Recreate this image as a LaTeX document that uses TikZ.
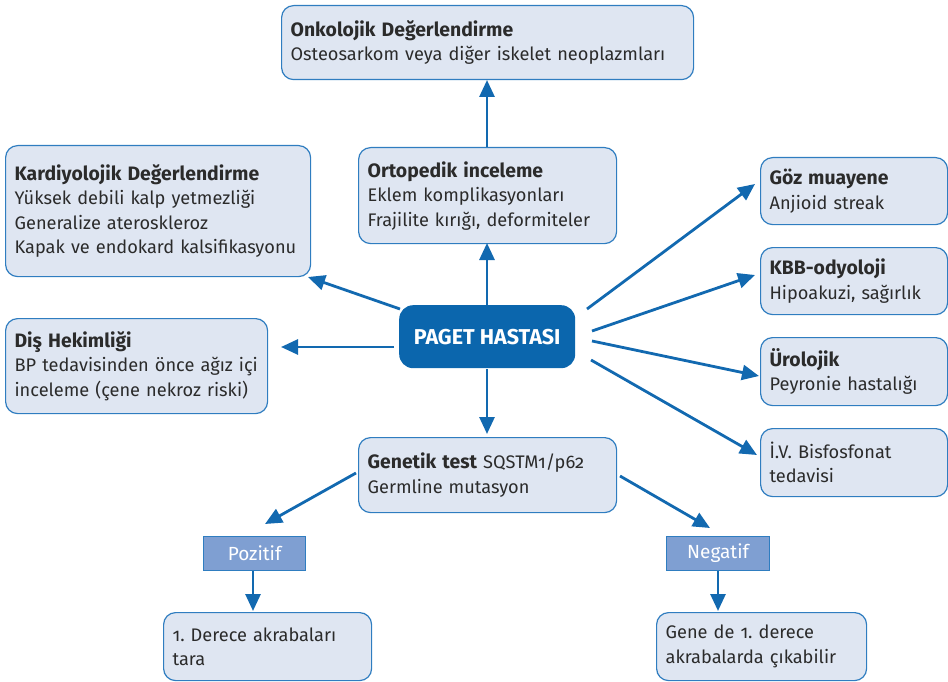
\documentclass[tikz,border=0pt]{standalone}
\usepackage{fontspec}
\setmainfont[Numbers=OldStyle]{Fira Sans}
\usetikzlibrary{arrows.meta}
\definecolor{bordc}{HTML}{2F7DC0}
\definecolor{boxc}{HTML}{DFE6F2}
\definecolor{arrc}{HTML}{1269B0}
\definecolor{centc}{HTML}{0B66AD}
\definecolor{txtc}{HTML}{2B2B2B}
\definecolor{labc}{HTML}{7F9FD2}
\newcommand\hdtxt[1]{{\fontsize{19.4}{24.5}\selectfont\bfseries #1}}
\begin{document}
\begin{tikzpicture}[x=1pt,y=-1pt,
  box/.style={draw=bordc, fill=boxc, rounded corners=12pt, line width=1.2pt, anchor=north west,
    inner xsep=9pt, inner ysep=0pt, align=left, text=txtc, font=\fontsize{18.2}{24.5}\selectfont},
  lab/.style={draw=bordc, fill=labc, line width=1.2pt, anchor=north west, inner sep=0pt,
    text=white, font=\fontsize{19}{22}\selectfont},
  conn/.style={draw=arrc, line width=2.8pt, -{Triangle[length=17pt,width=15pt]}}]
\useasboundingbox (0,0) rectangle (948,682);

% boxes
\node[box, text width=394pt, minimum height=74pt] (onk) at (281,5)
  {\hdtxt{Onkolojik Değerlendirme}\\Osteosarkom veya diğer iskelet neoplazmları};
\node[box, text width=287pt, minimum height=131pt] (kard) at (5,145)
  {\hdtxt{Kardiyolojik Değerlendirme}\\Yüksek debili kalp yetmezliği\\Generalize ateroskleroz\\Kapak ve endokard kalsifikasyonu};
\node[box, text width=240pt, minimum height=96pt] (ort) at (358,147)
  {\hdtxt{Ortopedik inceleme}\\Eklem komplikasyonları\\Frajilite kırığı, deformiteler};
\node[box, text width=169pt, minimum height=67pt] (goz) at (760,157)
  {\hdtxt{Göz muayene}\\Anjioid streak};
\node[box, text width=169pt, minimum height=67pt] (kbb) at (760,247)
  {\hdtxt{KBB-odyoloji}\\Hipoakuzi, sağırlık};
\node[box, text width=169pt, minimum height=68pt] (uro) at (760,337)
  {\hdtxt{Ürolojik}\\Peyronie hastalığı};
\node[box, text width=169pt, minimum height=68pt] (iv) at (760,428)
  {İ.V. Bisfosfonat\\tedavisi};
\node[box, text width=244pt, minimum height=95pt] (dis) at (5,318)
  {\hdtxt{Diş Hekimliği}\\BP tedavisinden önce ağız içi\\inceleme (çene nekroz riski)};
\node[box, text width=240pt, minimum height=75pt] (gen) at (358,437)
  {\hdtxt{Genetik test} SQSTM1/p62\\Germline mutasyon};
\node[box, text width=190pt, minimum height=68pt] (d1) at (163,612)
  {1.\ Derece akrabaları\\tara};
\node[box, text width=192pt, minimum height=68pt] (gd) at (656,612)
  {Gene de 1.\ derece\\akrabalarda çıkabilir};
\node[lab, minimum width=102pt, minimum height=34pt] (poz) at (203,536) {Pozitif};
\node[lab, minimum width=103pt, minimum height=34pt] (neg) at (666,536) {Negatif};
\node[fill=centc, rounded corners=14pt, anchor=north west, minimum width=176pt, minimum height=63pt,
  inner sep=0pt, text=white, font=\fontsize{21.5}{24}\selectfont\bfseries] (pag) at (399,305) {PAGET HASTASI};

% connector ends
\coordinate (cT) at (487,305);
\coordinate (cB) at (487,369);
\coordinate (cL1) at (400,309);
\coordinate (cL2) at (394,347);
\coordinate (cR1) at (587,309);
\coordinate (cR2) at (592,331);
\coordinate (cR3) at (592,341);
\coordinate (cR4) at (591,360);
\coordinate (tOrtB) at (487,243);
\coordinate (tOrtT) at (487,147);
\coordinate (tOnk) at (487,80);
\coordinate (tKard) at (308,277);
\coordinate (tDis) at (281,347);
\coordinate (tGoz) at (755,184);
\coordinate (tKbb) at (755,275);
\coordinate (tUro) at (759,376);
\coordinate (tIv) at (757,455);
\coordinate (tGen) at (487,434);
\coordinate (gL) at (356,473);
\coordinate (gR) at (620,476);
\coordinate (tPoz) at (265,524);
\coordinate (tNeg) at (710,528);
\coordinate (tD1) at (253,611);
\coordinate (tGd) at (718,611);

\draw[conn] (cT) -- (tOrtB);
\draw[conn] (tOrtT) -- (tOnk);
\draw[conn] (cL1) -- (tKard);
\draw[conn] (cL2) -- (tDis);
\draw[conn] (cR1) -- (tGoz);
\draw[conn] (cR2) -- (tKbb);
\draw[conn] (cR3) -- (tUro);
\draw[conn] (cR4) -- (tIv);
\draw[conn] (cB) -- (tGen);
\draw[conn] (gL) -- (tPoz);
\draw[conn] (gR) -- (tNeg);
\draw[conn] (poz.south -| tD1) -- (tD1);
\draw[conn] (neg.south -| tGd) -- (tGd);
\end{tikzpicture}
\end{document}
